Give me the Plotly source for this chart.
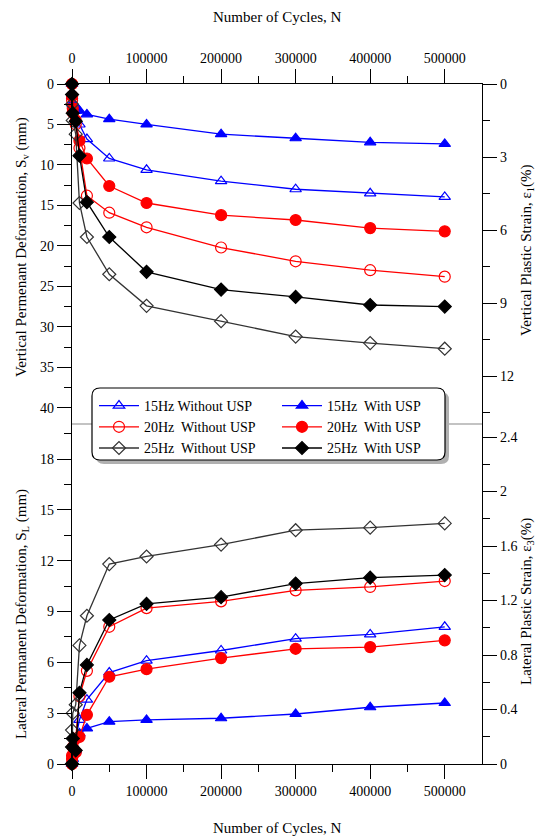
import plotly.graph_objects as go

# Number of load cycles at which deformation was recorded
cycles = [0, 100, 1000, 5000, 10000, 20000, 50000, 100000, 200000, 300000, 400000, 500000]

# Vertical permanent deformation S_v (mm)
sv_15_without = [0, 1.5, 2.5, 3.3, 5.0, 6.8, 9.2, 10.6, 12.0, 13.0, 13.5, 13.95]
sv_15_with = [0, 1.2, 2.3, 2.8, 3.3, 3.75, 4.35, 5.0, 6.2, 6.7, 7.2, 7.4]
sv_20_without = [0, 2.0, 3.5, 5.0, 7.9, 13.8, 15.9, 17.7, 20.2, 21.9, 23.0, 23.8]
sv_20_with = [0, 1.5, 3.0, 4.5, 7.0, 9.2, 12.6, 14.7, 16.2, 16.8, 17.8, 18.2]
sv_25_without = [0, 2.5, 4.5, 6.2, 14.7, 18.9, 23.5, 27.4, 29.3, 31.2, 32.0, 32.7]
sv_25_with = [0, 1.3, 3.6, 4.6, 8.85, 14.6, 18.9, 23.2, 25.4, 26.3, 27.3, 27.5]

# Lateral permanent deformation S_L (mm)
sl_15_without = [0, 0.2, 0.6, 1.5, 2.6, 3.8, 5.4, 6.1, 6.7, 7.4, 7.65, 8.1]
sl_15_with = [0, 0.1, 0.3, 0.8, 1.8, 2.1, 2.5, 2.6, 2.7, 2.95, 3.35, 3.6]
sl_20_without = [0, 0.5, 1.0, 1.5, 4.0, 5.5, 8.1, 9.2, 9.6, 10.25, 10.45, 10.8]
sl_20_with = [0, 0.3, 0.5, 0.7, 1.6, 2.9, 5.15, 5.6, 6.25, 6.8, 6.9, 7.3]
sl_25_without = [0, 2.0, 3.0, 3.5, 7.0, 8.75, 11.8, 12.25, 12.95, 13.8, 13.95, 14.2]
sl_25_with = [0, 1.0, 1.5, 0.8, 4.2, 5.85, 8.5, 9.45, 9.85, 10.65, 11.0, 11.15]

NB = "\u00a0"
series = [
    ("15Hz Without USP", "#0000ff", "triangle-up-open", 10, sv_15_without, sl_15_without),
    ("15Hz" + NB + " With USP", "#0000ff", "triangle-up", 10, sv_15_with, sl_15_with),
    ("20Hz" + NB + " Without USP", "#ff0000", "circle-open", 11, sv_20_without, sl_20_without),
    ("20Hz" + NB + " With USP", "#ff0000", "circle", 11, sv_20_with, sl_20_with),
    ("25Hz" + NB + " Without USP", "#333333", "diamond-open", 10, sv_25_without, sl_25_without),
    ("25Hz" + NB + " With USP", "#000000", "diamond", 10, sv_25_with, sl_25_with),
]

FONT = "Liberation Serif"
W, H = 547, 840
L, R, T, B = 72, 65, 84, 76
PW, PH = W - L - R, H - T - B


def px(xp):
    return (xp - L) / PW


def py(yp):
    return (H - B - yp) / PH


fig = go.Figure()
for name, color, symbol, size, sv, sl in series:
    mline = dict(color=color, width=1.2)
    fig.add_trace(go.Scatter(
        x=cycles, y=sv, name=name, mode="lines+markers", legendgroup=name,
        line=dict(color=color, width=1.3), cliponaxis=False,
        marker=dict(symbol=symbol, size=size, color=color, line=mline),
        xaxis="x", yaxis="y"))
    fig.add_trace(go.Scatter(
        x=cycles, y=sl, name=name, mode="lines+markers", legendgroup=name,
        showlegend=False, line=dict(color=color, width=1.3), cliponaxis=False,
        marker=dict(symbol=symbol, size=size, color=color, line=mline),
        xaxis="x2", yaxis="y2"))

tickfont = dict(family=FONT, size=14, color="black")
minor_style = dict(ticklen=7, tickwidth=1.3, tickcolor="black", ticks="outside")
common_axis = dict(showline=True, linecolor="black", linewidth=1.3, ticks="outside",
                   tickwidth=1.3, tickcolor="black", ticklen=14, showgrid=False,
                   zeroline=False, tickfont=tickfont)
xcommon = dict(common_axis, range=[0, 550000],
               tickvals=[0, 100000, 200000, 300000, 400000, 500000], tickformat="d",
               minor=dict(minor_style, tickvals=[50000, 150000, 250000, 350000, 450000]))

fig.update_layout(
    width=W, height=H, margin=dict(l=L, r=R, t=T, b=B),
    paper_bgcolor="white", plot_bgcolor="white",
    font=dict(family=FONT, size=14, color="black"),
    xaxis=dict(xcommon, side="top", anchor="y", domain=[0, 1]),
    xaxis2=dict(xcommon, side="bottom", anchor="y2", domain=[0, 1]),
    yaxis=dict(common_axis, domain=[0.5, 1], range=[42.0, 0], anchor="x",
               tickvals=[0, 5, 10, 15, 20, 25, 30, 35, 40],
               minor=dict(minor_style, tickvals=[2.5, 7.5, 12.5, 17.5, 22.5, 27.5, 32.5, 37.5])),
    yaxis2=dict(common_axis, domain=[0, 0.5], range=[0, 20.07], anchor="x2",
                tickvals=[0, 3, 6, 9, 12, 15, 18],
                minor=dict(minor_style, tickvals=[1.5, 4.5, 7.5, 10.5, 13.5, 16.5, 19.5])),
    yaxis3=dict(common_axis, overlaying="y", side="right", anchor="x", range=[13.97, 0],
                tickvals=[0, 3, 6, 9, 12],
                minor=dict(minor_style, tickvals=[1.5, 4.5, 7.5, 10.5, 13.5])),
    yaxis4=dict(common_axis, overlaying="y2", side="right", anchor="x2", range=[0, 2.496],
                tickvals=[0, 0.4, 0.8, 1.2, 1.6, 2.0, 2.4],
                ticktext=["0", "0.4", "0.8", "1.2", "1.6", "2", "2.4"],
                minor=dict(minor_style, tickvals=[0.2, 0.6, 1.0, 1.4, 1.8, 2.2])),
    legend=dict(orientation="h", x=px(94), xanchor="left", y=py(390), yanchor="top",
                entrywidth=128, entrywidthmode="pixels", itemwidth=40,
                font=dict(family=FONT, size=14, color="black"),
                bgcolor="rgba(0,0,0,0)", borderwidth=0, tracegroupgap=0),
)

# empty traces so the strain axes are drawn
fig.add_trace(go.Scatter(x=[None], y=[None], xaxis="x", yaxis="y3", showlegend=False))
fig.add_trace(go.Scatter(x=[None], y=[None], xaxis="x2", yaxis="y4", showlegend=False))

# separator between the two panels
fig.add_shape(type="line", xref="paper", yref="paper", x0=0, x1=1, y0=0.5, y1=0.5,
              line=dict(color="#888888", width=1.2), layer="above")

# legend frame: shadow + rounded white box
x0, x1, y0, y1 = 92, 445, 388, 460
rr = 8


def rounded(xa, ya, xb, yb, r):
    rx, ry = r / PW, r / PH
    X0, X1, Y0, Y1 = px(xa), px(xb), py(yb), py(ya)
    return (f"M{X0 + rx},{Y1} L{X1 - rx},{Y1} Q{X1},{Y1} {X1},{Y1 - ry} "
            f"L{X1},{Y0 + ry} Q{X1},{Y0} {X1 - rx},{Y0} L{X0 + rx},{Y0} "
            f"Q{X0},{Y0} {X0},{Y0 + ry} L{X0},{Y1 - ry} Q{X0},{Y1} {X0 + rx},{Y1} Z")


fig.add_shape(type="path", xref="paper", yref="paper",
              path=rounded(x0 + 4, y0 + 4, x1 + 4, y1 + 4, rr),
              fillcolor="#b0b0b0", line=dict(width=0), layer="above")
fig.add_shape(type="path", xref="paper", yref="paper", path=rounded(x0, y0, x1, y1, rr),
              fillcolor="white", line=dict(color="black", width=1.2), layer="above")

title_font = dict(family=FONT, size=15, color="black")
titles = [
    ("Number of Cycles, N", 277, 17, 0),
    ("Number of Cycles, N", 277, 828, 0),
    ("Vertical Permenant Deforamation, S<sub>v</sub> (mm)", 22, 247, -90),
    ("Lateral Permanent Deformation, S<sub>L</sub> (mm)", 22, 614, -90),
    ("Vertical Plastic Strain, ε<sub>1</sub>(%)", 527, 250, -90),
    ("Lateral Plastic Strain, ε<sub>3</sub>(%)", 527, 602, -90),
]
for text, xp, yp, ang in titles:
    fig.add_annotation(text=text, xref="paper", yref="paper", x=px(xp), y=py(yp),
                       xanchor="center", yanchor="middle", textangle=ang,
                       showarrow=False, font=title_font)

fig.write_html("out.html")
